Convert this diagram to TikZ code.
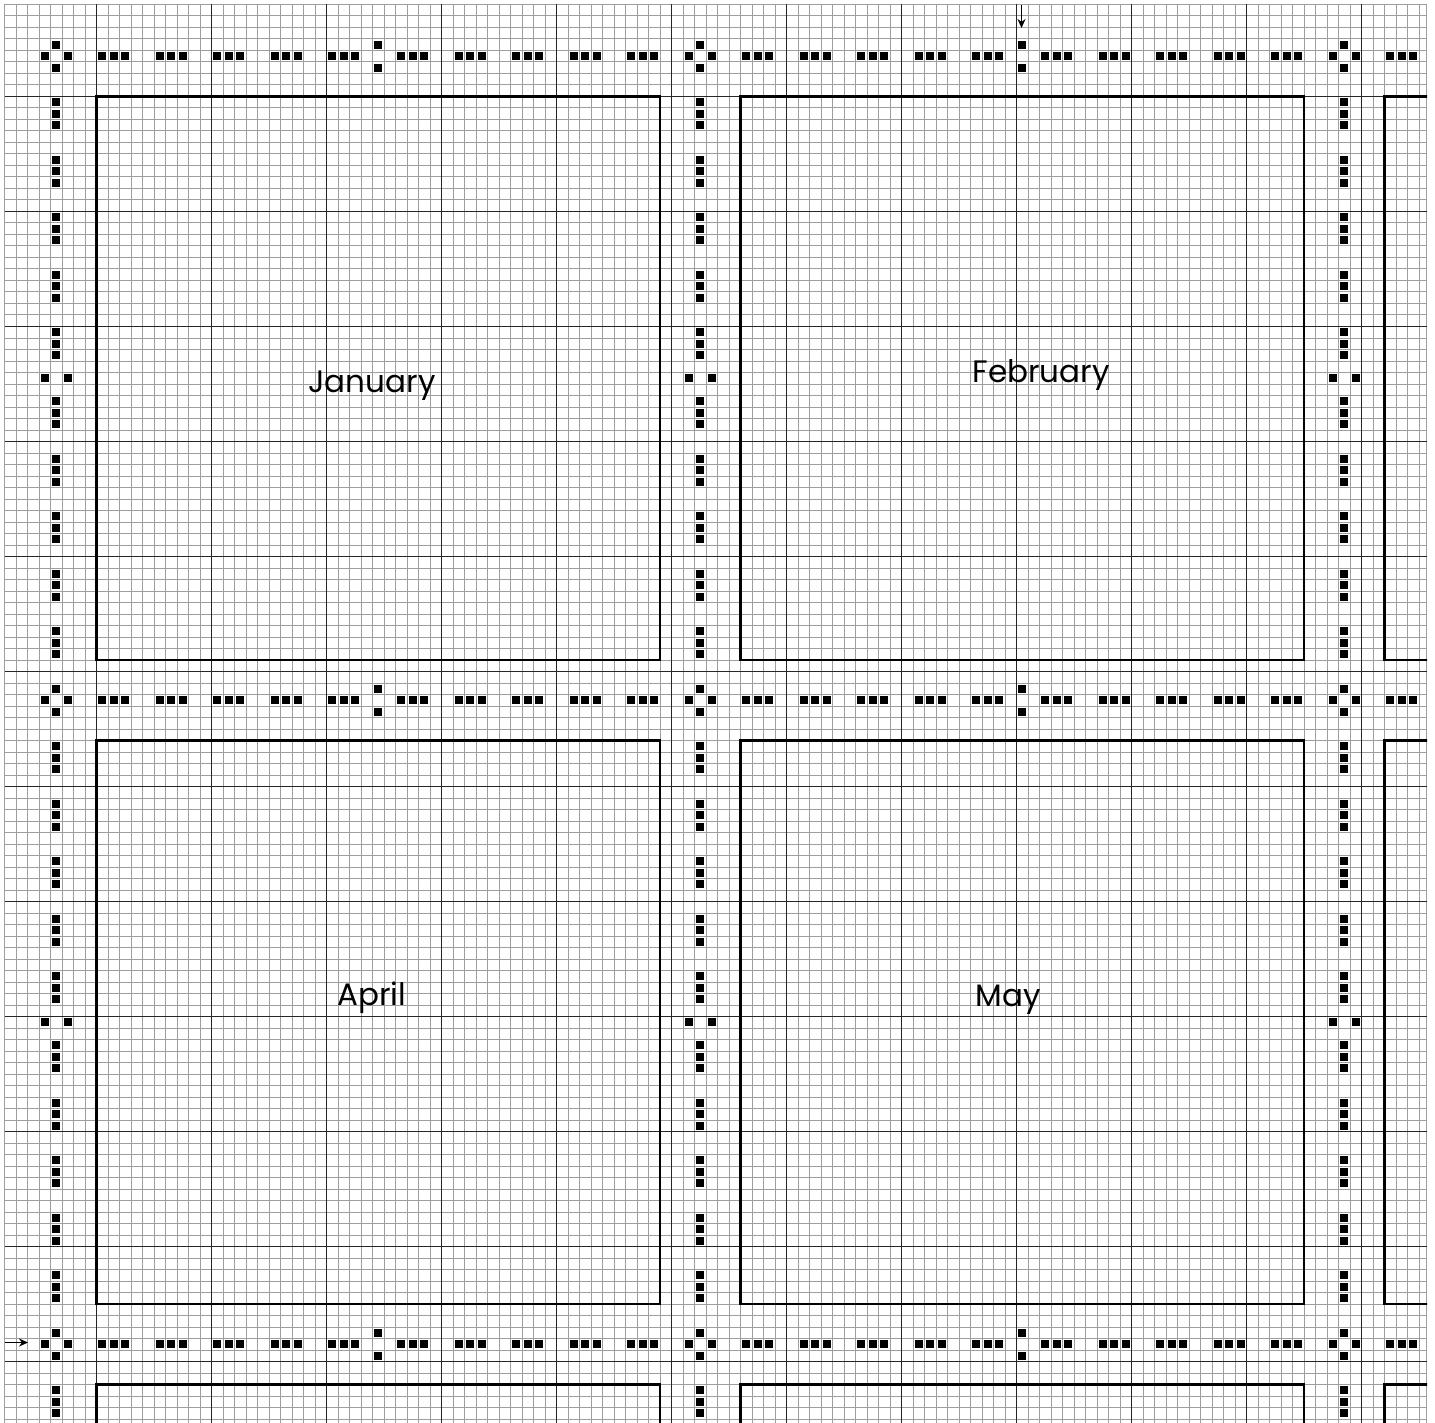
\documentclass[tikz,border=0pt]{standalone}
\usepackage{fontspec}
\setmainfont{Poppins}
\usetikzlibrary{arrows.meta}
\tikzset{
  minorline/.style={line width=0.5pt, draw=black!38},
  majorline/.style={line width=0.9pt, draw=black!85},
  boxline/.style={line width=1.3pt, draw=black},
  monthlabel/.style={anchor=base, inner sep=0pt, font=\fontsize{15.5}{16}\selectfont},
  marker/.style={line width=0.7pt, -{Stealth[length=4.5pt,width=4pt]}}
}
\newcommand\stitchdot[2]{\fill[black] ({4.5+11.5*(#1)+1.9},{4.5+11.5*(#2)+1.9}) rectangle ++(7.7,7.7);}
\begin{document}
\begin{tikzpicture}[x=0.5pt,y=-0.5pt]
\useasboundingbox (0,0) rectangle (1435,1423);
\fill[white] (0,0) rectangle (1435,1423);
\begin{scope}
\clip (4,4) rectangle (1427,1423);
% minor grid
\foreach \i in {0,...,123} {
  \draw[minorline] ({4.5+11.5*\i},4.5) -- ({4.5+11.5*\i},1423);
  \draw[minorline] (4.5,{4.5+11.5*\i}) -- (1426.5,{4.5+11.5*\i});
}
\draw[minorline] (1426.5,4.5) -- (1426.5,1423);
% major grid
\foreach \i in {8,18,...,118} {
  \draw[majorline] ({4.5+11.5*\i},4.5) -- ({4.5+11.5*\i},1423);
  \draw[majorline] (4.5,{4.5+11.5*\i}) -- (1426.5,{4.5+11.5*\i});
}
% month boxes
\foreach \bx in {0,1,2} {
  \foreach \by in {0,1,2} {
    \draw[boxline] ({4.5+11.5*(8+56*\bx)},{4.5+11.5*(8+56*\by)}) rectangle ({4.5+11.5*(57+56*\bx)},{4.5+11.5*(57+56*\by)});
  }
}
% stitch markers
\foreach \b in {0,1,2} {
  \foreach \s in {0,1,2} {
    \foreach \o in {0,1,2,5,6,7,10,11,12,15,16,17,20,21,22,26,27,28,31,32,33,36,37,38,41,42,43,46,47,48} {
      \stitchdot{8+56*\b+\o}{4+56*\s}
      \stitchdot{4+56*\s}{8+56*\b+\o}
    }
    % centre pairs
    \stitchdot{32+56*\b}{3+56*\s}
    \stitchdot{32+56*\b}{5+56*\s}
    \stitchdot{3+56*\s}{32+56*\b}
    \stitchdot{5+56*\s}{32+56*\b}
    % corner crosses
    \stitchdot{4+56*\b}{3+56*\s}
    \stitchdot{3+56*\b}{4+56*\s}
    \stitchdot{5+56*\b}{4+56*\s}
    \stitchdot{4+56*\b}{5+56*\s}
  }
}
\end{scope}
% labels
\node[monthlabel] (jan) at (372,393) {January};
\node[monthlabel] (feb) at (1041,382) {February};
\node[monthlabel] (apr) at (371.5,1005) {April};
\node[monthlabel] (may) at (1008,1006.5) {May};
% centre markers
\coordinate (topstart) at (1021.5,5);
\coordinate (topend) at (1021.5,28);
\coordinate (leftstart) at (5,1342.5);
\coordinate (leftend) at (28,1342.5);
\draw[marker] (topstart) -- (topend);
\draw[marker] (leftstart) -- (leftend);
\end{tikzpicture}
\end{document}
